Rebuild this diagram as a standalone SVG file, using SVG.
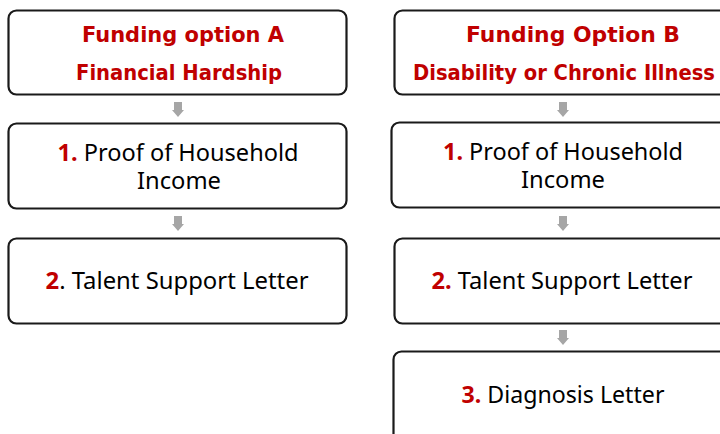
<svg xmlns="http://www.w3.org/2000/svg" width="720" height="434" viewBox="0 0 720 434">
<style>
.box{fill:#fff;stroke:#1a1a1a;stroke-width:2.2}
.hd{font-family:"DejaVu Sans",sans-serif;font-weight:bold;font-size:21.5px;fill:#c00000;text-anchor:middle}
.bd{font-family:"Noto Sans","DejaVu Sans",sans-serif;font-size:23px;fill:#000;text-anchor:middle}
.num{fill:#c00000;font-weight:bold}
.arr{fill:#a6a6a6}
</style>
<defs>
<path id="ar" d="M-4,0 H4 V8 H6 L0,15 L-6,8 H-4 Z"/>
</defs>
<rect width="720" height="434" fill="#fff"/>
<g id="connectors">
<use href="#ar" class="arr" x="178" y="102"/>
<use href="#ar" class="arr" x="178" y="216"/>
<use href="#ar" class="arr" x="563" y="102"/>
<use href="#ar" class="arr" x="563" y="216"/>
<use href="#ar" class="arr" x="563" y="330"/>
</g>
<g id="headerA">
<rect class="box" x="8.5" y="10.5" width="338" height="84" rx="8"/>
<text class="hd" x="183" y="42" textLength="202" lengthAdjust="spacingAndGlyphs">Funding option A</text>
<text class="hd" x="179" y="80" textLength="206" lengthAdjust="spacingAndGlyphs">Financial Hardship</text>
</g>
<g id="a1">
<rect class="box" x="8.5" y="123.5" width="338" height="85" rx="8"/>
<text class="bd" x="178" y="161" textLength="241" lengthAdjust="spacingAndGlyphs"><tspan class="num">1.</tspan> Proof of Household</text>
<text class="bd" x="179" y="189" textLength="84" lengthAdjust="spacingAndGlyphs">Income</text>
</g>
<g id="a2">
<rect class="box" x="8.5" y="238.5" width="338" height="85" rx="8"/>
<text class="bd" x="177" y="289" textLength="263" lengthAdjust="spacingAndGlyphs"><tspan class="num">2</tspan>. Talent Support Letter</text>
</g>
<g id="headerB">
<rect class="box" x="394.5" y="10.5" width="350" height="84" rx="8"/>
<text class="hd" x="573" y="42" textLength="214" lengthAdjust="spacingAndGlyphs">Funding Option B</text>
<text class="hd" x="564" y="80" textLength="302" lengthAdjust="spacingAndGlyphs">Disability or Chronic Illness</text>
</g>
<g id="b1">
<rect class="box" x="391.5" y="122.5" width="350" height="85" rx="8"/>
<text class="bd" x="563" y="160" textLength="240" lengthAdjust="spacingAndGlyphs"><tspan class="num">1.</tspan> Proof of Household</text>
<text class="bd" x="563" y="188" textLength="84" lengthAdjust="spacingAndGlyphs">Income</text>
</g>
<g id="b2">
<rect class="box" x="394.5" y="238.5" width="350" height="85" rx="8"/>
<text class="bd" x="562" y="289" textLength="261" lengthAdjust="spacingAndGlyphs"><tspan class="num">2.</tspan> Talent Support Letter</text>
</g>
<g id="b3">
<rect class="box" x="393.5" y="351.5" width="350" height="100" rx="8"/>
<text class="bd" x="563" y="403" textLength="203" lengthAdjust="spacingAndGlyphs"><tspan class="num">3.</tspan> Diagnosis Letter</text>
</g>
</svg>
